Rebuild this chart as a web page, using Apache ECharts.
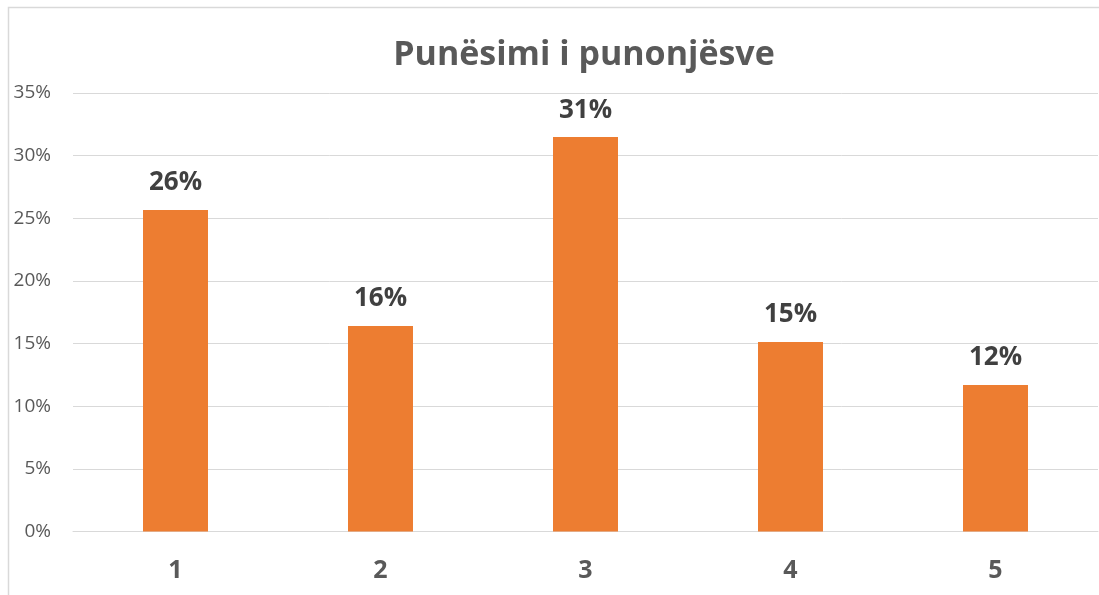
<!DOCTYPE html>
<html>
<head>
<meta charset="utf-8">
<script src="https://cdn.jsdelivr.net/npm/echarts@6/dist/echarts.min.js"></script>
<style>html,body{margin:0;padding:0;background:#fff;}#c{width:1099px;height:595px;}</style>
</head>
<body>
<div id="c"></div>
<script>
const titleText = "Punësimi i punonjësve";
const categories = ["1", "2", "3", "4", "5"];
const values = [25.66, 16.4, 31.48, 15.12, 11.69];
const yTicks = [0, 5, 10, 15, 20, 25, 30, 35];

const chart = echarts.init(document.getElementById('c'), null, {renderer: 'canvas'});
chart.setOption({
  backgroundColor: '#fff',
  animation: false,
  graphic: [{
    type: 'rect', left: 6, top: 5, z: -1,
    shape: {width: 1200, height: 700},
    style: {fill: 'none', stroke: '#d9d9d9', lineWidth: 1.5}
  }],
  title: {
    text: titleText, left: 579, top: 33, textAlign: 'center',
    textStyle: {fontFamily: 'Open Sans', fontWeight: 'bold', fontSize: 34, color: '#595959'}
  },
  grid: {left: 73, right: 1, top: 93, bottom: 63.5, containLabel: false},
  xAxis: {
    type: 'category', data: categories,
    axisLine: {show: true, lineStyle: {color: '#d9d9d9', width: 1}},
    axisTick: {show: false},
    axisLabel: {margin: 27, fontFamily: 'Open Sans', fontWeight: 'bold', fontSize: 25, color: '#595959'}
  },
  yAxis: {
    type: 'value', min: yTicks[0], max: yTicks[yTicks.length - 1], interval: 5,
    axisLine: {show: false}, axisTick: {show: false},
    splitLine: {lineStyle: {color: '#d9d9d9', width: 1}},
    axisLabel: {margin: 22, fontFamily: 'Open Sans', fontSize: 19, color: '#595959', formatter: v => v + '%'}
  },
  series: [{
    type: 'bar', data: values, barWidth: '31.7%',
    itemStyle: {color: '#ED7D31'},
    label: {
      show: true, position: 'top', distance: 14,
      fontFamily: 'Open Sans', fontWeight: 'bold', fontSize: 26, color: '#404040',
      formatter: p => Math.round(p.value) + '%'
    }
  }]
});
</script>
</body>
</html>
